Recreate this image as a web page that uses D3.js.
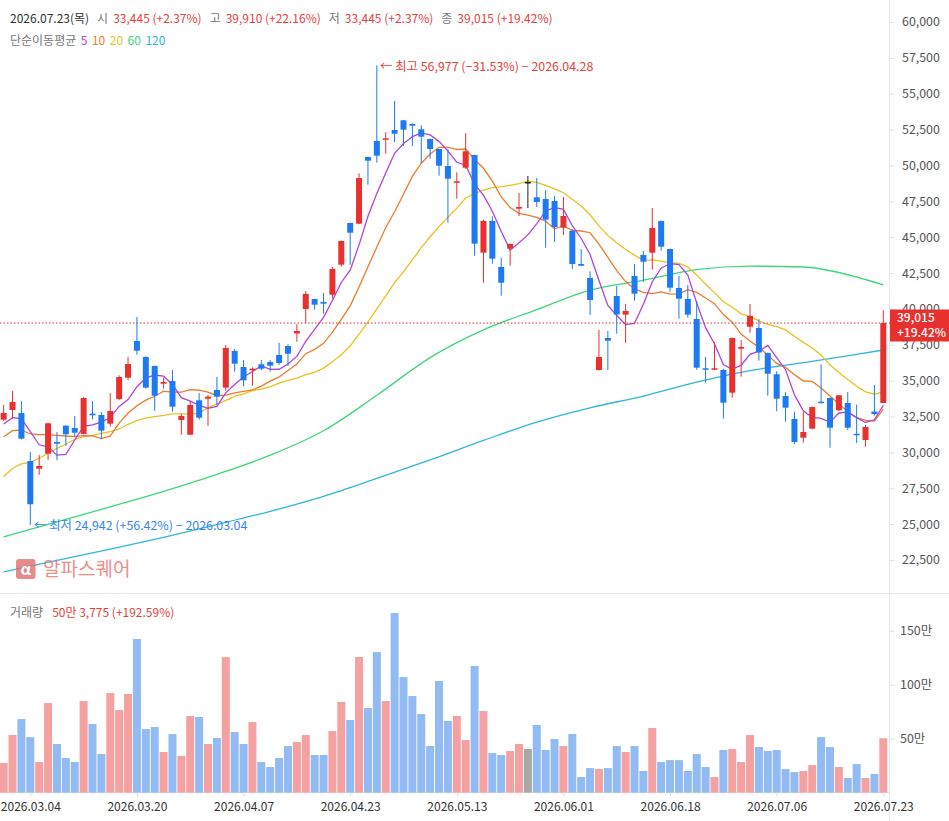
<!DOCTYPE html>
<html>
<head>
<meta charset="utf-8">
<script src="https://cdn.jsdelivr.net/npm/d3@7"></script>
<style>
  body { margin: 0; background: #fff; }
  svg { display: block; font-family: "Noto Sans CJK KR", "Noto Sans", sans-serif; }
</style>
</head>
<body>
<svg id="chart" width="949" height="821"></svg>
<script>
// daily candles, 100 sessions (2026.02.26 - 2026.07.23)
var opens = [32280, 32956, 32747, 29402, 28865, 29911, 30726, 31862, 31702, 31284,
  32699, 32608, 32002, 33723, 35208, 37766, 36650, 36023, 34790, 34978,
  32259, 31235, 33632, 33744, 34350, 34511, 37069, 35953, 35723, 36142,
  36302, 36790, 37417, 38288, 39996, 40693, 40484, 40993, 43084, 45990,
  45942, 50590, 51706, 51796, 52472, 53148, 52891, 52521, 51845, 51148,
  49963, 48848, 49845, 50730, 43920, 46130, 42923, 44199, 46987, 48848,
  47782, 47663, 47524, 45663, 45454, 43133, 42157, 35744, 37975, 40902,
  39599, 42296, 43760, 43920, 46130, 44178, 41460, 40693, 39299, 35863,
  35765, 35744, 34162, 37229, 38762, 38672, 36929, 35445, 33932, 32329,
  31026, 31653, 33535, 33793, 32935, 33444, 31298, 30865, 32850, 33445]
var highs = [33305, 34281, 33584, 30029, 29820, 32071, 31423, 31900, 32538, 33850,
  33584, 32796, 34141, 35375, 36650, 39438, 36700, 36050, 35208, 35744,
  32678, 33563, 34141, 34002, 35256, 37487, 37208, 36441, 35933, 36441,
  36441, 37647, 37536, 38930, 41251, 40720, 41111, 42923, 44760, 46020,
  49454, 50620, 56977, 52312, 54494, 53180, 52950, 52800, 51870, 51170,
  51148, 49524, 52263, 50760, 46199, 46457, 43551, 44560, 48081, 49266,
  49127, 48290, 47872, 47802, 45550, 44178, 42624, 38532, 38463, 41599,
  40345, 43133, 44039, 47036, 46160, 44200, 42296, 41669, 40554, 36650,
  37696, 35835, 38000, 37835, 40345, 39278, 36960, 35654, 34190, 32838,
  32838, 33200, 36142, 33820, 34000, 34211, 33326, 31911, 34699, 39910]
var lows = [32190, 32378, 30900, 24942, 28426, 29471, 29450, 30468, 31095, 31250,
  32308, 30914, 31792, 33653, 35047, 36811, 34450, 32908, 34441, 32838,
  31235, 31200, 32280, 31862, 33305, 34302, 35626, 34608, 34650, 35744,
  35626, 36093, 36023, 37717, 39020, 39947, 39669, 40742, 42944, 43084,
  45900, 48660, 50193, 50821, 51636, 51357, 51357, 50151, 50472, 49287,
  46011, 47684, 49754, 43711, 41829, 43154, 40923, 43014, 46478, 47036,
  47105, 44269, 44666, 45154, 42784, 42990, 39578, 35700, 35744, 38275,
  37626, 40575, 41899, 42735, 44060, 41202, 39320, 39390, 35765, 34859,
  35740, 32350, 33814, 35277, 38344, 36393, 33953, 32866, 32141, 30587,
  30677, 31620, 33420, 30329, 32866, 31562, 30656, 30398, 32560, 33445]
var closes = [32747, 33514, 30956, 26384, 29053, 32029, 30608, 31263, 31374, 33793,
  32587, 31514, 32887, 35256, 36163, 37090, 34511, 33953, 34908, 33186,
  32538, 33305, 32420, 33883, 33883, 37278, 36184, 35026, 35835, 35835,
  36044, 36232, 36881, 38463, 41042, 40296, 40366, 42784, 44736, 45314,
  49127, 50333, 50681, 51894, 52215, 52493, 52772, 52005, 51148, 49984,
  49078, 48897, 50988, 44548, 46130, 43502, 41829, 44527, 47105, 48848,
  47454, 46220, 45711, 46478, 43133, 43014, 40623, 36650, 37787, 39613,
  39857, 41063, 43293, 45642, 44338, 41481, 40714, 39599, 35905, 35765,
  35863, 33465, 37975, 37347, 39508, 36964, 35487, 33744, 33117, 30726,
  31423, 33165, 33444, 31723, 33981, 31723, 31228, 31771, 32671, 39015]
// volume in shares
var volumes = [275000, 534000, 682000, 515000, 284000, 830000, 451000, 321000, 284000, 849000,
  636000, 358000, 923000, 765000, 914000, 1423000, 590000, 608000, 377000, 543000,
  340000, 710000, 701000, 451000, 506000, 1256000, 562000, 451000, 654000, 284000,
  238000, 321000, 432000, 469000, 534000, 349000, 349000, 571000, 840000, 673000,
  1256000, 784000, 1302000, 849000, 1664000, 1071000, 895000, 728000, 432000, 1034000,
  664000, 710000, 488000, 1173000, 756000, 367000, 349000, 386000, 451000, 404000,
  627000, 395000, 497000, 432000, 543000, 145000, 228000, 219000, 228000, 432000,
  377000, 432000, 201000, 599000, 284000, 302000, 302000, 201000, 358000, 238000,
  145000, 395000, 404000, 284000, 534000, 423000, 386000, 395000, 219000, 191000,
  201000, 256000, 515000, 423000, 238000, 136000, 265000, 136000, 173000, 503775]

// moving averages: first points lean on sessions before the window
var ma5Head = [31981, 32420, 32350, 31444]
var ma10Head = [31095, 31514, 31562, 31284, 31235, 31235, 31193, 31144, 31095]
var ma20Head = [28307, 28893, 29193, 29311, 29590, 29938, 30287, 30566, 30914, 31095,
  31193, 31332, 31444, 31632, 31960, 32211, 32385, 32489, 32580]
var maSampleIdx = [0, 6, 12, 18, 24, 30, 36, 42, 48, 54, 60, 66, 72, 78, 84, 90, 96, 99]
var ma60 = [24104, 25157, 26202, 27283, 28468, 29806, 31507, 33981, 36609, 38539,
  39954, 41313, 42003, 42735, 42979, 42923, 42226, 41669]
var ma120 = [21672, 22467, 23254, 24077, 24969, 25896, 26941, 28182, 29471, 30831,
  32113, 33110, 33925, 34894, 35696, 36253, 36832, 37138]

var tickIdx = [3, 15, 27, 39, 51, 63, 75, 87, 99]
var tickLabels = ['2026.03.04', '2026.03.20', '2026.04.07', '2026.04.23', '2026.05.13',
  '2026.06.01', '2026.06.18', '2026.07.06', '2026.07.23']
var priceTicks = d3.range(22500, 60001, 2500)
var volumeTicks = [500000, 1000000, 1500000]

var colorUp = '#e8312f'
var colorDown = '#1d7af3'
var colorFlat = '#222222'
var volUp = '#f5a1a1'
var volDown = '#92bbf4'
var volFlat = '#a8a8a8'
var maColors = { 5: '#b144dc', 10: '#f07b2b', 20: '#e8c21d', 60: '#3ed67f', 120: '#2fb6d8' }

//
// Setup
//

var svg = d3.select('#chart')
var plotRight = 890
var x = d3.scaleLinear().domain([0, 99]).range([3.65, 883.3])
var y = d3.scaleLinear().domain([22500, 60000]).range([560, 22])
var yv = d3.scaleLinear().domain([0, 1500000]).range([792.7, 630.7])

function candleColor(i, up, down, flat) {
  if (closes[i] > opens[i]) return up
  if (closes[i] < opens[i]) return down
  return flat
}

function sma(n, head) {
  return closes.map(function (c, i) {
    if (i < n - 1) return [i, head[i]]
    return [i, d3.mean(closes.slice(i - n + 1, i + 1))]
  })
}

svg.append('defs').append('clipPath').attr('id', 'priceClip')
  .append('rect').attr('x', 0).attr('y', 0).attr('width', plotRight).attr('height', 593)

// frame lines
svg.append('line').attr('x1', 0).attr('x2', 949).attr('y1', 593.5).attr('y2', 593.5)
  .attr('stroke', '#e8e8e8')
svg.append('line').attr('x1', plotRight - 0.5).attr('x2', plotRight - 0.5).attr('y1', 0).attr('y2', 821)
  .attr('stroke', '#e8e8e8')
svg.append('line').attr('x1', 0).attr('x2', plotRight).attr('y1', 792.5).attr('y2', 792.5)
  .attr('stroke', '#e6e6e6')

//
// Price pane
//

var price = svg.append('g').attr('clip-path', 'url(#priceClip)')

// watermark
var mark = svg.append('g').attr('transform', 'translate(16,559)').attr('opacity', 0.8)
mark.append('rect').attr('width', 19.5).attr('height', 20).attr('rx', 3).attr('fill', '#e26d6d')
mark.append('text').attr('x', 9.75).attr('y', 15.5).attr('text-anchor', 'middle')
  .attr('fill', '#fff').attr('font-size', 16).attr('font-weight', 'bold').text('α')
mark.append('text').attr('x', 27).attr('y', 17).attr('fill', '#e57373')
  .attr('font-size', 19).text('알파스퀘어')

var line = d3.line().x(function (d) { return x(d[0]) }).y(function (d) { return y(d[1]) })
var smooth = d3.line().curve(d3.curveMonotoneX)
  .x(function (d) { return x(d[0]) }).y(function (d) { return y(d[1]) })

var maLines = [
  { n: 120, pts: maSampleIdx.map(function (d, i) { return [d, ma120[i]] }), gen: smooth },
  { n: 60, pts: maSampleIdx.map(function (d, i) { return [d, ma60[i]] }), gen: smooth },
  { n: 20, pts: sma(20, ma20Head), gen: line },
  { n: 10, pts: sma(10, ma10Head), gen: line },
  { n: 5, pts: sma(5, ma5Head), gen: line }
]
price.selectAll('path.ma').data(maLines).join('path')
  .attr('class', 'ma')
  .attr('fill', 'none')
  .attr('stroke-width', 1.3)
  .attr('stroke', function (d) { return maColors[d.n] })
  .attr('d', function (d) { return d.gen(d.pts) })

// current price line
price.append('line').attr('x1', 0).attr('x2', plotRight)
  .attr('y1', y(closes[99])).attr('y2', y(closes[99]))
  .attr('stroke', colorUp).attr('stroke-width', 1).attr('stroke-dasharray', '1.5,2')

var idx = d3.range(closes.length)
var candles = price.selectAll('g.candle').data(idx).join('g').attr('class', 'candle')
candles.append('line')
  .attr('x1', function (i) { return x(i) }).attr('x2', function (i) { return x(i) })
  .attr('y1', function (i) { return y(highs[i]) }).attr('y2', function (i) { return y(lows[i]) })
  .attr('stroke', function (i) { return candleColor(i, colorUp, colorDown, colorFlat) })
  .attr('stroke-width', 1)
candles.append('rect')
  .attr('x', function (i) { return x(i) - 3 })
  .attr('width', 6)
  .attr('y', function (i) { return y(Math.max(opens[i], closes[i])) })
  .attr('height', function (i) { return Math.max(1.5, Math.abs(y(opens[i]) - y(closes[i]))) })
  .attr('fill', function (i) { return candleColor(i, colorUp, colorDown, colorFlat) })

// high / low notes
svg.append('text').attr('x', 380).attr('y', 71).attr('font-size', 12.4).attr('fill', '#e8413c')
  .text('← 최고 56,977 (−31.53%) − 2026.04.28')
svg.append('text').attr('x', 34).attr('y', 530).attr('font-size', 12.4).attr('fill', '#3584f0')
  .text('← 최저 24,942 (+56.42%) − 2026.03.04')

// price axis
var pAxis = svg.append('g').attr('transform', 'translate(' + plotRight + ',0)')
  .call(d3.axisRight(y).tickValues(priceTicks).tickFormat(d3.format(',')).tickSize(5).tickPadding(7))
pAxis.select('.domain').remove()
pAxis.selectAll('line').attr('stroke', '#e3e3e3')
pAxis.selectAll('text').attr('fill', '#555').attr('font-size', 12.4)
  .attr('font-family', '"Noto Sans CJK KR", "Noto Sans", sans-serif')

// last price tag, drawn over the axis labels as in the source chart
svg.append('rect').attr('x', plotRight).attr('y', 309.5).attr('width', 949 - plotRight).attr('height', 32)
  .attr('fill', colorUp)
svg.append('text').attr('x', 897).attr('y', 322).attr('fill', '#fff').attr('font-size', 12)
  .attr('font-weight', 500).text(d3.format(',')(closes[99]))
svg.append('text').attr('x', 897).attr('y', 337).attr('fill', '#fff').attr('font-size', 12)
  .attr('font-weight', 500).text('+19.42%')

// header
var head = svg.append('text').attr('x', 10).attr('y', 23).attr('font-size', 12).attr('fill', '#333')
head.append('tspan').text('2026.07.23(목)')
var headItems = [['시', '33,445 (+2.37%)'], ['고', '39,910 (+22.16%)'], ['저', '33,445 (+2.37%)'], ['종', '39,015 (+19.42%)']]
headItems.forEach(function (h) {
  head.append('tspan').attr('dx', 8).attr('fill', '#777').text(h[0])
  head.append('tspan').attr('dx', 5).attr('fill', '#e8413c').text(h[1])
})
var maHead = svg.append('text').attr('x', 10).attr('y', 45).attr('font-size', 12).attr('fill', '#777')
maHead.append('tspan').text('단순이동평균')
;[5, 10, 20, 60, 120].forEach(function (n) {
  maHead.append('tspan').attr('dx', 4.5).attr('fill', maColors[n]).text(n)
})

//
// Volume pane
//

svg.selectAll('rect.vol').data(idx).join('rect')
  .attr('class', 'vol')
  .attr('x', function (i) { return x(i) - 4 })
  .attr('width', 8)
  .attr('y', function (i) { return yv(volumes[i]) })
  .attr('height', function (i) { return yv(0) - yv(volumes[i]) })
  .attr('fill', function (i) { return candleColor(i, volUp, volDown, volFlat) })

var volHead = svg.append('text').attr('x', 10).attr('y', 617).attr('font-size', 12)
volHead.append('tspan').attr('fill', '#777').text('거래량')
volHead.append('tspan').attr('dx', 9).attr('fill', '#e8413c').text('50만 3,775 (+192.59%)')

var vAxis = svg.append('g').attr('transform', 'translate(' + plotRight + ',0)')
  .call(d3.axisRight(yv).tickValues(volumeTicks)
    .tickFormat(function (d) { return d / 10000 + '만' }).tickSize(5).tickPadding(5))
vAxis.select('.domain').remove()
vAxis.selectAll('line').attr('stroke', '#e3e3e3')
vAxis.selectAll('text').attr('fill', '#555').attr('font-size', 12.4)
  .attr('font-family', '"Noto Sans CJK KR", "Noto Sans", sans-serif')

// date axis
var xAxis = svg.append('g').attr('transform', 'translate(0,792.5)')
  .call(d3.axisBottom(x).tickValues(tickIdx)
    .tickFormat(function (d, i) { return tickLabels[i] }).tickSize(4).tickPadding(6))
xAxis.select('.domain').remove()
xAxis.selectAll('line').attr('stroke', '#dcdcdc')
xAxis.selectAll('text').attr('fill', '#333').attr('font-size', 12)
  .attr('font-family', '"Noto Sans CJK KR", "Noto Sans", sans-serif')
</script>
</body>
</html>
